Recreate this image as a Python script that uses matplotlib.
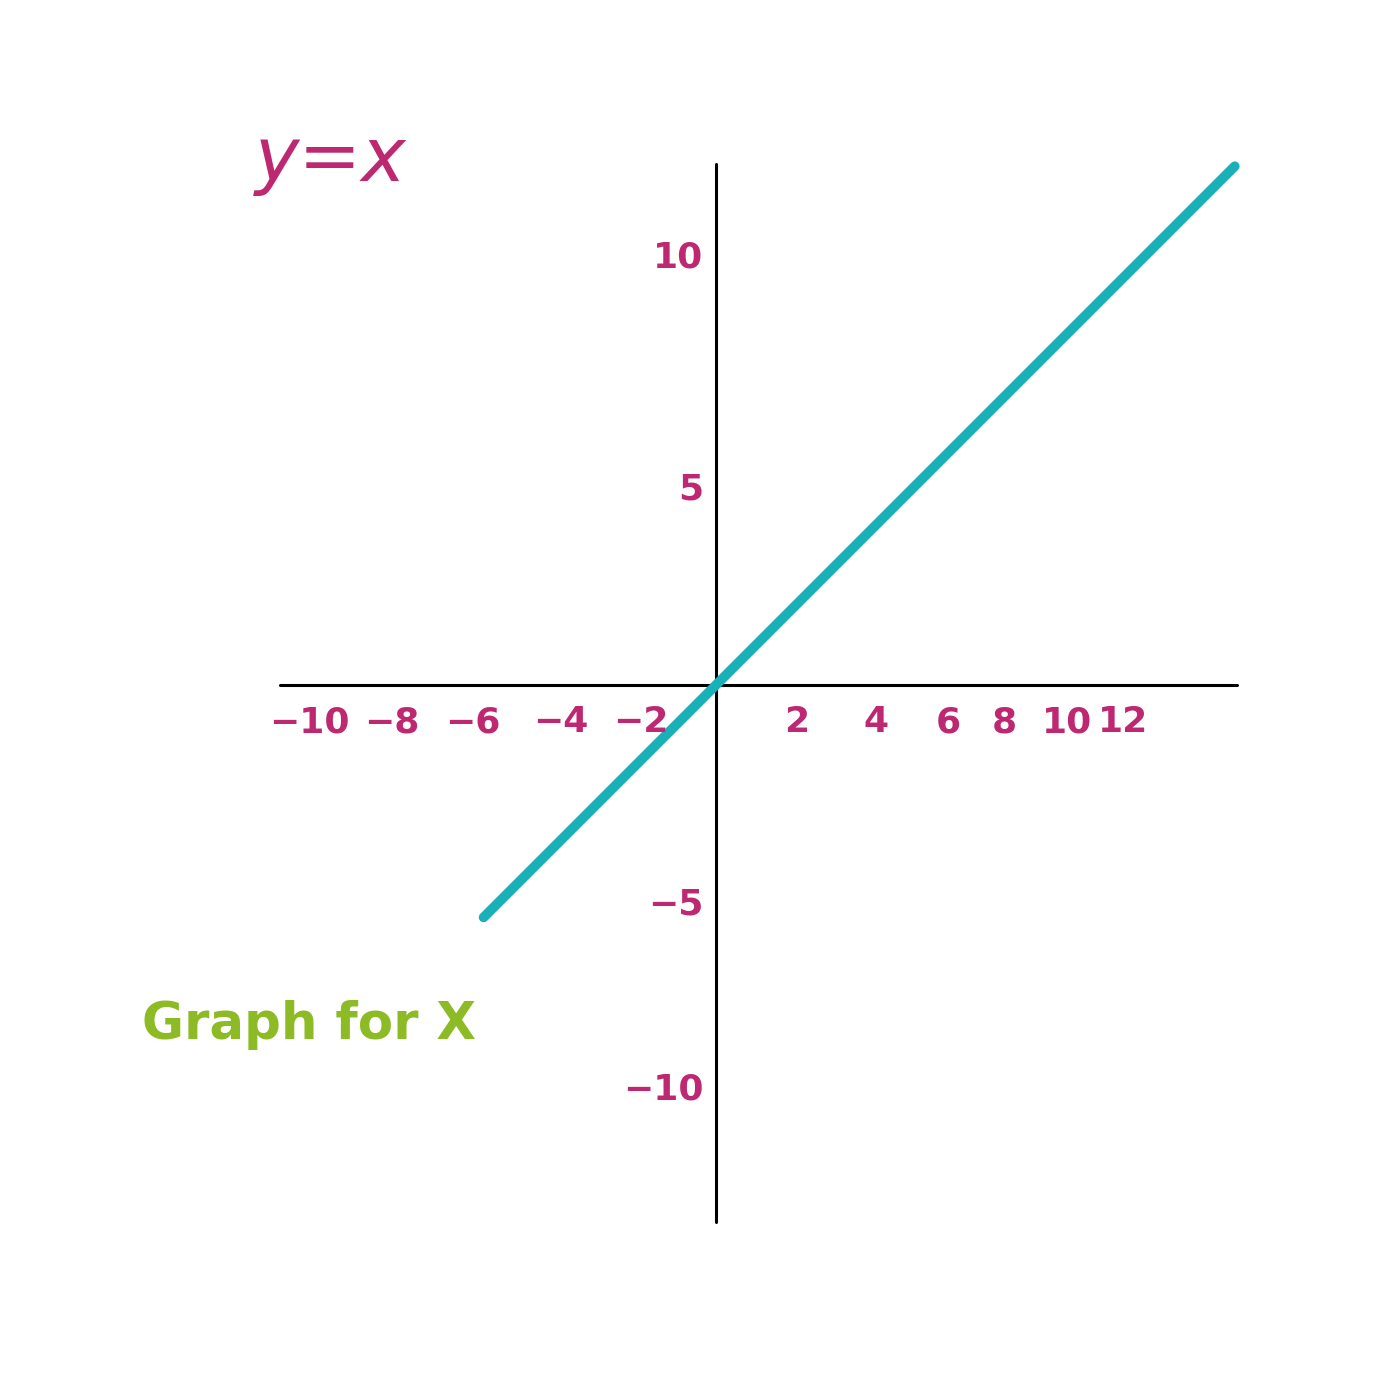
import numpy as np
import matplotlib
matplotlib.use("Agg")
from matplotlib import pyplot as plt

# line y = x, drawn between these x values
line_x = [-5.6, 12.5]

# axis extents (data units)
x_axis = [-10.5, 12.55]
y_axis = [-12.95, 12.55]

# tick labels, positioned where the hand-drawn labels sit
xtick_labels = ["−10", "−8", "−6", "−4", "−2", "2", "4", "6", "8", "10", "12"]
xtick_pos = [-9.8, -7.8, -5.85, -3.75, -1.8, 1.95, 3.85, 5.6, 6.95, 8.45, 9.8]
ytick_labels = ["10", "5", "−5", "−10"]
ytick_pos = [10.3, 4.7, -5.3, -9.75]

magenta = "#BE2870"
teal = "#1BAFB8"
green = "#8DBB25"

# pixel geometry of the picture: origin at (716, 685), ~41.5 px per unit
s = 41.5
ox, oy = 716, 685

fig = plt.figure(figsize=(14, 14), dpi=100)
ax = fig.add_axes([0, 0, 1, 1])
ax.set_xlim(-ox / s, (1400 - ox) / s)
ax.set_ylim(-(1400 - oy) / s, oy / s)
ax.axis("off")

# axes
ax.plot(x_axis, [0, 0], color="black", lw=2.2, solid_capstyle="round")
ax.plot([0, 0], y_axis, color="black", lw=2.2, solid_capstyle="round")

# the graph
xs = np.array(line_x)
ax.plot(xs, xs, color=teal, lw=7, solid_capstyle="round")

for lab, p in zip(xtick_labels, xtick_pos):
    ax.text(p, -0.9, lab, color=magenta, fontsize=26, fontweight="bold",
            ha="center", va="center", family="DejaVu Sans")
for lab, p in zip(ytick_labels, ytick_pos):
    ax.text(-0.3, p, lab, color=magenta, fontsize=26, fontweight="bold",
            ha="right", va="center", family="DejaVu Sans")

ax.text((255 - ox) / s, (oy - 160) / s, "y=x", color=magenta, fontsize=54,
        style="italic", ha="left", va="center", family="DejaVu Sans")
ax.text((142 - ox) / s, (oy - 1025) / s, "Graph for X", color=green,
        fontsize=37, fontweight="bold", ha="left", va="center",
        family="DejaVu Sans")

fig.savefig("out.png", dpi=100, facecolor="white")
